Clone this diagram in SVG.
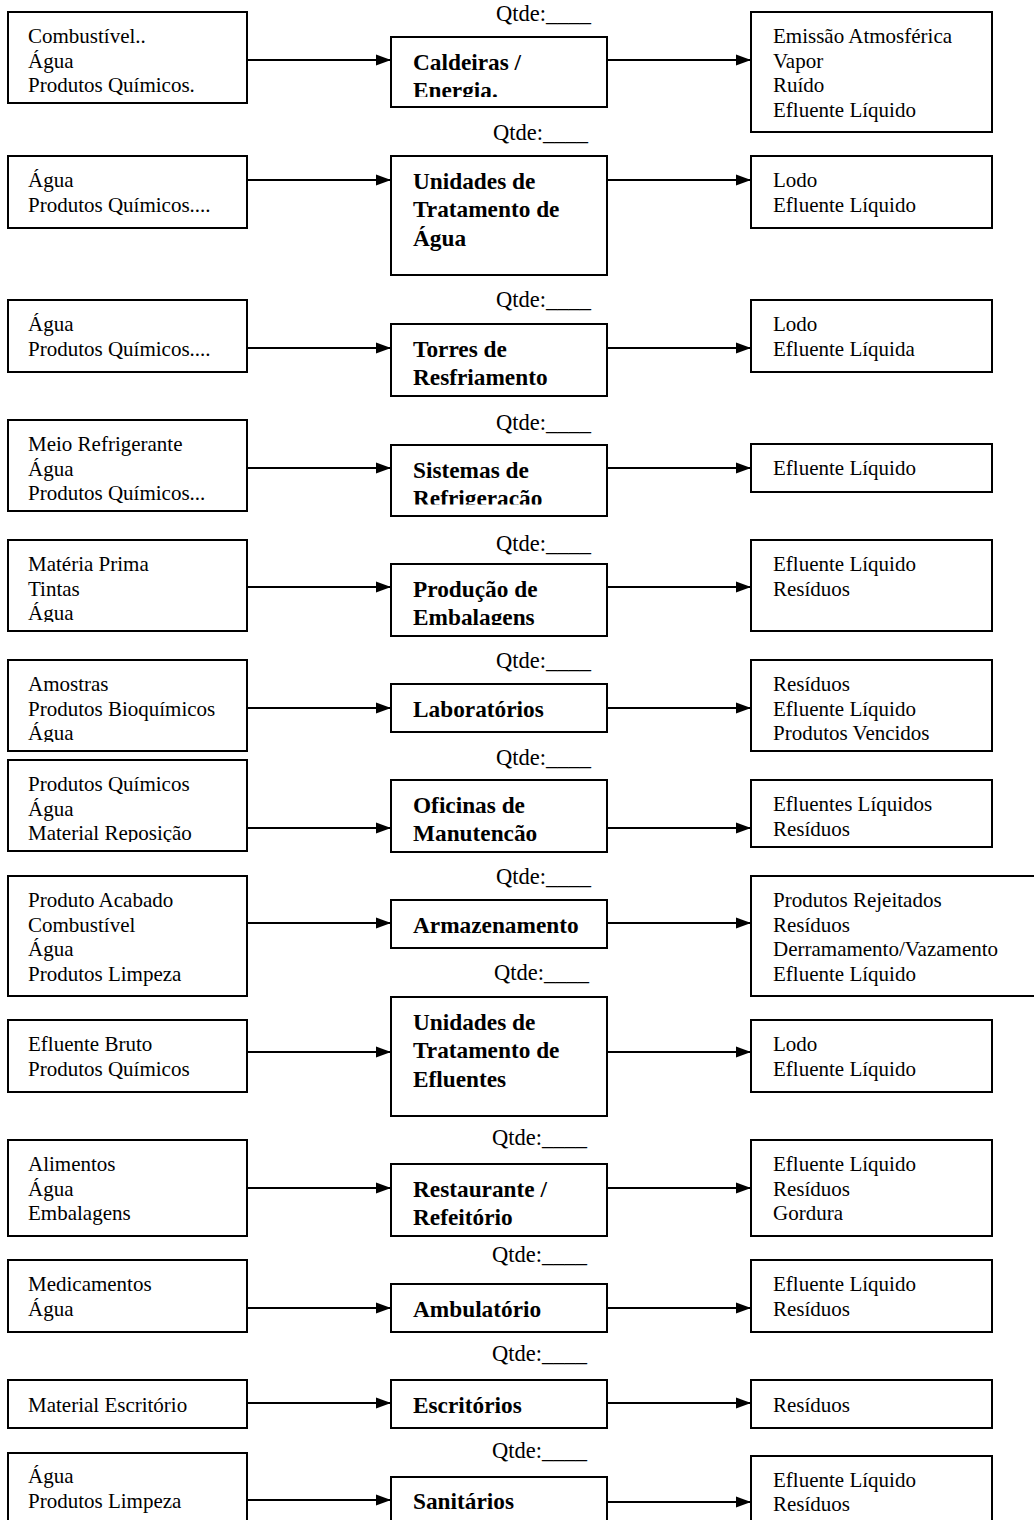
<svg xmlns="http://www.w3.org/2000/svg" width="1034" height="1520" viewBox="0 0 1034 1520">
<style>
.box{fill:#fff;stroke:#000;stroke-width:2}
.t{font-family:"Liberation Serif","Times New Roman",serif;font-size:21px;fill:#000}
.b{font-family:"Liberation Serif","Times New Roman",serif;font-size:23.3px;font-weight:bold;fill:#000}
.q{font-family:"Liberation Serif","Times New Roman",serif;font-size:22.5px;fill:#000}
.c{stroke:#000;stroke-width:2;fill:none;marker-end:url(#ah)}
</style>
<defs>
<marker id="ah" markerUnits="userSpaceOnUse" markerWidth="16" markerHeight="12" refX="15" refY="6" orient="auto">
<path d="M0,0.5 L15,6 L0,11.5 Z" fill="#000"/>
</marker>
<clipPath id="c1m"><rect x="391" y="37" width="216" height="60"/></clipPath>
<clipPath id="c4l"><rect x="8" y="420" width="239" height="84"/></clipPath>
<clipPath id="c4m"><rect x="391" y="445" width="216" height="59.5"/></clipPath>
<clipPath id="c5l"><rect x="8" y="540" width="239" height="82"/></clipPath>
<clipPath id="c5m"><rect x="391" y="564" width="216" height="61"/></clipPath>
<clipPath id="c6l"><rect x="8" y="660" width="239" height="82"/></clipPath>
<clipPath id="c7l"><rect x="8" y="760" width="239" height="82"/></clipPath>
<clipPath id="c7m"><rect x="391" y="780" width="216" height="61"/></clipPath>
<clipPath id="c10m"><rect x="391" y="1164" width="216" height="63"/></clipPath>
</defs>

<g id="connectors">
<line class="c" x1="247" y1="60" x2="391" y2="60"/><line class="c" x1="607" y1="60" x2="751" y2="60"/>
<line class="c" x1="247" y1="180" x2="391" y2="180"/><line class="c" x1="607" y1="180" x2="751" y2="180"/>
<line class="c" x1="247" y1="348" x2="391" y2="348"/><line class="c" x1="607" y1="348" x2="751" y2="348"/>
<line class="c" x1="247" y1="468" x2="391" y2="468"/><line class="c" x1="607" y1="468" x2="751" y2="468"/>
<line class="c" x1="247" y1="587" x2="391" y2="587"/><line class="c" x1="607" y1="587" x2="751" y2="587"/>
<line class="c" x1="247" y1="708" x2="391" y2="708"/><line class="c" x1="607" y1="708" x2="751" y2="708"/>
<line class="c" x1="247" y1="828" x2="391" y2="828"/><line class="c" x1="607" y1="828" x2="751" y2="828"/>
<line class="c" x1="247" y1="923" x2="391" y2="923"/><line class="c" x1="607" y1="923" x2="751" y2="923"/>
<line class="c" x1="247" y1="1052" x2="391" y2="1052"/><line class="c" x1="607" y1="1052" x2="751" y2="1052"/>
<line class="c" x1="247" y1="1188" x2="391" y2="1188"/><line class="c" x1="607" y1="1188" x2="751" y2="1188"/>
<line class="c" x1="247" y1="1308" x2="391" y2="1308"/><line class="c" x1="607" y1="1308" x2="751" y2="1308"/>
<line class="c" x1="247" y1="1403" x2="391" y2="1403"/><line class="c" x1="607" y1="1403" x2="751" y2="1403"/>
<line class="c" x1="247" y1="1500" x2="391" y2="1500"/><line class="c" x1="607" y1="1502" x2="751" y2="1502"/>
</g>

<g id="qtde">
<text class="q" x="496" y="21">Qtde:____</text>
<text class="q" x="493" y="140">Qtde:____</text>
<text class="q" x="496" y="307">Qtde:____</text>
<text class="q" x="496" y="430">Qtde:____</text>
<text class="q" x="496" y="551">Qtde:____</text>
<text class="q" x="496" y="668">Qtde:____</text>
<text class="q" x="496" y="765">Qtde:____</text>
<text class="q" x="496" y="884">Qtde:____</text>
<text class="q" x="494" y="980">Qtde:____</text>
<text class="q" x="492" y="1145">Qtde:____</text>
<text class="q" x="492" y="1262">Qtde:____</text>
<text class="q" x="492" y="1361">Qtde:____</text>
<text class="q" x="492" y="1458">Qtde:____</text>
</g>

<!-- Row 1 -->
<g id="in1"><rect class="box" x="8" y="12" width="239" height="91"/>
<text class="t" x="28" y="43">Combustível..</text><text class="t" x="28" y="67.5">Água</text><text class="t" x="28" y="92">Produtos Químicos.</text></g>
<g id="proc1"><rect class="box" x="391" y="37" width="216" height="70"/>
<g clip-path="url(#c1m)"><text class="b" x="413" y="69.5">Caldeiras /</text><text class="b" x="413" y="98">Energia.</text></g></g>
<g id="out1"><rect class="box" x="751" y="12" width="241" height="120"/>
<text class="t" x="773" y="43">Emissão Atmosférica</text><text class="t" x="773" y="67.5">Vapor</text><text class="t" x="773" y="92">Ruído</text><text class="t" x="773" y="116.5">Efluente Líquido</text></g>

<!-- Row 2 -->
<g id="in2"><rect class="box" x="8" y="156" width="239" height="72"/>
<text class="t" x="28" y="187">Água</text><text class="t" x="28" y="211.5">Produtos Químicos....</text></g>
<g id="proc2"><rect class="box" x="391" y="156" width="216" height="119"/>
<text class="b" x="413" y="188.5">Unidades de</text><text class="b" x="413" y="217">Tratamento de</text><text class="b" x="413" y="245.5">Água</text></g>
<g id="out2"><rect class="box" x="751" y="156" width="241" height="72"/>
<text class="t" x="773" y="187">Lodo</text><text class="t" x="773" y="211.5">Efluente Líquido</text></g>

<!-- Row 3 -->
<g id="in3"><rect class="box" x="8" y="300" width="239" height="72"/>
<text class="t" x="28" y="331">Água</text><text class="t" x="28" y="355.5">Produtos Químicos....</text></g>
<g id="proc3"><rect class="box" x="391" y="324" width="216" height="72"/>
<text class="b" x="413" y="356.5">Torres de</text><text class="b" x="413" y="385">Resfriamento</text></g>
<g id="out3"><rect class="box" x="751" y="300" width="241" height="72"/>
<text class="t" x="773" y="331">Lodo</text><text class="t" x="773" y="355.5">Efluente Líquida</text></g>

<!-- Row 4 -->
<g id="in4"><rect class="box" x="8" y="420" width="239" height="91"/>
<g clip-path="url(#c4l)"><text class="t" x="28" y="451">Meio Refrigerante</text><text class="t" x="28" y="475.5">Água</text><text class="t" x="28" y="500">Produtos Químicos...</text></g></g>
<g id="proc4"><rect class="box" x="391" y="445" width="216" height="71"/>
<g clip-path="url(#c4m)"><text class="b" x="413" y="477.5">Sistemas de</text><text class="b" x="413" y="505.5">Refrigeração</text></g></g>
<g id="out4"><rect class="box" x="751" y="444" width="241" height="48"/>
<text class="t" x="773" y="475">Efluente Líquido</text></g>

<!-- Row 5 -->
<g id="in5"><rect class="box" x="8" y="540" width="239" height="91"/>
<g clip-path="url(#c5l)"><text class="t" x="28" y="571">Matéria Prima</text><text class="t" x="28" y="595.5">Tintas</text><text class="t" x="28" y="620">Água</text></g></g>
<g id="proc5"><rect class="box" x="391" y="564" width="216" height="72"/>
<g clip-path="url(#c5m)"><text class="b" x="413" y="596.5">Produção de</text><text class="b" x="413" y="625">Embalagens</text></g></g>
<g id="out5"><rect class="box" x="751" y="540" width="241" height="91"/>
<text class="t" x="773" y="571">Efluente Líquido</text><text class="t" x="773" y="595.5">Resíduos</text></g>

<!-- Row 6 -->
<g id="in6"><rect class="box" x="8" y="660" width="239" height="91"/>
<g clip-path="url(#c6l)"><text class="t" x="28" y="691">Amostras</text><text class="t" x="28" y="715.5">Produtos Bioquímicos</text><text class="t" x="28" y="740">Água</text></g></g>
<g id="proc6"><rect class="box" x="391" y="684" width="216" height="48"/>
<text class="b" x="413" y="716.5">Laboratórios</text></g>
<g id="out6"><rect class="box" x="751" y="660" width="241" height="91"/>
<text class="t" x="773" y="691">Resíduos</text><text class="t" x="773" y="715.5">Efluente Líquido</text><text class="t" x="773" y="740">Produtos Vencidos</text></g>

<!-- Row 7 -->
<g id="in7"><rect class="box" x="8" y="760" width="239" height="91"/>
<g clip-path="url(#c7l)"><text class="t" x="28" y="791">Produtos Químicos</text><text class="t" x="28" y="815.5">Água</text><text class="t" x="28" y="840">Material Reposição</text></g></g>
<g id="proc7"><rect class="box" x="391" y="780" width="216" height="72"/>
<g clip-path="url(#c7m)"><text class="b" x="413" y="812.5">Oficinas de</text><text class="b" x="413" y="841">Manutenção</text></g></g>
<g id="out7"><rect class="box" x="751" y="780" width="241" height="67"/>
<text class="t" x="773" y="811">Efluentes Líquidos</text><text class="t" x="773" y="835.5">Resíduos</text></g>

<!-- Row 8 -->
<g id="in8"><rect class="box" x="8" y="876" width="239" height="120"/>
<text class="t" x="28" y="907">Produto Acabado</text><text class="t" x="28" y="931.5">Combustível</text><text class="t" x="28" y="956">Água</text><text class="t" x="28" y="980.5">Produtos Limpeza</text></g>
<g id="proc8"><rect class="box" x="391" y="900" width="216" height="48"/>
<text class="b" x="413" y="932.5">Armazenamento</text></g>
<g id="out8"><rect class="box" x="751" y="876" width="300" height="120"/>
<text class="t" x="773" y="907">Produtos Rejeitados</text><text class="t" x="773" y="931.5">Resíduos</text><text class="t" x="773" y="956">Derramamento/Vazamento</text><text class="t" x="773" y="980.5">Efluente Líquido</text></g>

<!-- Row 9 -->
<g id="in9"><rect class="box" x="8" y="1020" width="239" height="72"/>
<text class="t" x="28" y="1051">Efluente Bruto</text><text class="t" x="28" y="1075.5">Produtos Químicos</text></g>
<g id="proc9"><rect class="box" x="391" y="997" width="216" height="119"/>
<text class="b" x="413" y="1029.5">Unidades de</text><text class="b" x="413" y="1058">Tratamento de</text><text class="b" x="413" y="1086.5">Efluentes</text></g>
<g id="out9"><rect class="box" x="751" y="1020" width="241" height="72"/>
<text class="t" x="773" y="1051">Lodo</text><text class="t" x="773" y="1075.5">Efluente Líquido</text></g>

<!-- Row 10 -->
<g id="in10"><rect class="box" x="8" y="1140" width="239" height="96"/>
<text class="t" x="28" y="1171">Alimentos</text><text class="t" x="28" y="1195.5">Água</text><text class="t" x="28" y="1220">Embalagens</text></g>
<g id="proc10"><rect class="box" x="391" y="1164" width="216" height="72"/>
<g clip-path="url(#c10m)"><text class="b" x="413" y="1196.5">Restaurante /</text><text class="b" x="413" y="1225">Refeitório</text></g></g>
<g id="out10"><rect class="box" x="751" y="1140" width="241" height="96"/>
<text class="t" x="773" y="1171">Efluente Líquido</text><text class="t" x="773" y="1195.5">Resíduos</text><text class="t" x="773" y="1220">Gordura</text></g>

<!-- Row 11 -->
<g id="in11"><rect class="box" x="8" y="1260" width="239" height="72"/>
<text class="t" x="28" y="1291">Medicamentos</text><text class="t" x="28" y="1315.5">Água</text></g>
<g id="proc11"><rect class="box" x="391" y="1284" width="216" height="48"/>
<text class="b" x="413" y="1316.5">Ambulatório</text></g>
<g id="out11"><rect class="box" x="751" y="1260" width="241" height="72"/>
<text class="t" x="773" y="1291">Efluente Líquido</text><text class="t" x="773" y="1315.5">Resíduos</text></g>

<!-- Row 12 -->
<g id="in12"><rect class="box" x="8" y="1380" width="239" height="48"/>
<text class="t" x="28" y="1411.5">Material Escritório</text></g>
<g id="proc12"><rect class="box" x="391" y="1380" width="216" height="48"/>
<text class="b" x="413" y="1412.5">Escritórios</text></g>
<g id="out12"><rect class="box" x="751" y="1380" width="241" height="48"/>
<text class="t" x="773" y="1411.5">Resíduos</text></g>

<!-- Row 13 -->
<g id="in13"><rect class="box" x="8" y="1453" width="239" height="90"/>
<text class="t" x="28" y="1483">Água</text><text class="t" x="28" y="1507.5">Produtos Limpeza</text></g>
<g id="proc13"><rect class="box" x="391" y="1477" width="216" height="70"/>
<text class="b" x="413" y="1509">Sanitários</text></g>
<g id="out13"><rect class="box" x="751" y="1456" width="241" height="90"/>
<text class="t" x="773" y="1487">Efluente Líquido</text><text class="t" x="773" y="1511">Resíduos</text></g>
</svg>
